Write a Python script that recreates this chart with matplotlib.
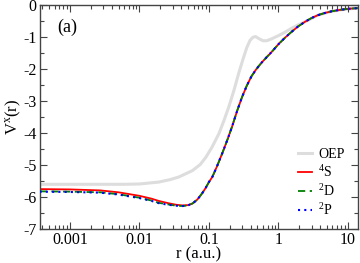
import matplotlib
matplotlib.use("Agg")
import matplotlib.pyplot as plt
from matplotlib.ticker import FixedLocator, FixedFormatter, LogLocator, MultipleLocator, NullFormatter

plt.rcParams['font.family'] = ['Liberation Serif', 'DejaVu Serif']
plt.rcParams['mathtext.fontset'] = 'custom'
plt.rcParams['mathtext.rm'] = 'Liberation Serif'
plt.rcParams['mathtext.it'] = 'Liberation Serif'
plt.rcParams['axes.unicode_minus'] = False

# OEP curve
r_oep = [3.66e-4, 0.001, 0.003, 0.006, 0.01, 0.019, 0.028, 0.037, 0.058, 0.075, 0.09, 0.11, 0.139,
         0.165, 0.193, 0.23, 0.268, 0.31, 0.35, 0.39, 0.43, 0.47, 0.53, 0.6, 0.68, 0.8, 1.0,
         1.25, 1.55, 1.9, 2.4, 3.7, 5.8, 9.0, 13.9]
v_oep = [-5.60, -5.60, -5.60, -5.60, -5.59, -5.53, -5.45, -5.37, -5.17, -4.98, -4.76, -4.45, -4.02,
         -3.60, -3.18, -2.65, -2.13, -1.68, -1.33, -1.10, -1.00, -0.98, -1.05, -1.11, -1.11, -1.05, -0.95,
         -0.84, -0.72, -0.62, -0.52, -0.31, -0.19, -0.125, -0.09]

# 4S curve
r_s = [3.66e-4, 0.001, 0.0027, 0.005, 0.01, 0.015, 0.019, 0.026, 0.034, 0.042, 0.05, 0.058, 0.068,
       0.08, 0.09, 0.1, 0.112, 0.13, 0.155, 0.185, 0.215, 0.255, 0.3, 0.35, 0.41, 0.48, 0.57,
       0.68, 0.8, 1.0, 1.25, 1.55, 1.9, 2.4, 3.0, 3.7, 4.6, 5.8, 7.2, 9.0, 11.0, 13.9]
v_s = [-5.75, -5.76, -5.79, -5.85, -5.96, -6.05, -6.12, -6.19, -6.24, -6.26, -6.25, -6.20, -6.08,
       -5.88, -5.71, -5.53, -5.37, -5.05, -4.64, -4.20, -3.80, -3.30, -2.87, -2.52, -2.22, -2.00, -1.80,
       -1.62, -1.46, -1.22, -1.01, -0.83, -0.67, -0.52, -0.40, -0.31, -0.245, -0.19, -0.155, -0.125, -0.105, -0.09]

# 2D and 2P curves
v_d = [-5.82, -5.83, -5.85, -5.91, -6.02, -6.11, -6.18, -6.23, -6.27, -6.28, -6.26, -6.20, -6.08,
       -5.88, -5.71, -5.53, -5.37, -5.05, -4.64, -4.20, -3.80, -3.30, -2.87, -2.52, -2.22, -2.00, -1.80,
       -1.62, -1.46, -1.22, -1.01, -0.83, -0.67, -0.52, -0.40, -0.31, -0.245, -0.19, -0.155, -0.125, -0.105, -0.09]
v_p = [-5.83, -5.84, -5.86, -5.92, -6.03, -6.12, -6.19, -6.24, -6.27, -6.28, -6.26, -6.20, -6.08,
       -5.88, -5.71, -5.53, -5.37, -5.05, -4.64, -4.20, -3.80, -3.30, -2.87, -2.52, -2.22, -2.00, -1.80,
       -1.62, -1.46, -1.22, -1.01, -0.83, -0.67, -0.52, -0.40, -0.31, -0.245, -0.19, -0.155, -0.125, -0.105, -0.09]

x_ticks = [0.001, 0.01, 0.1, 1, 10]
x_ticklabels = ['0.001', '0.01', '0.1', '1', '10']
y_ticks = [0, -1, -2, -3, -4, -5, -6, -7]
y_ticklabels = ['0', '-1', '-2', '-3', '-4', '-5', '-6', '-7']

fig = plt.figure(figsize=(3.6, 2.63), dpi=100)
ax = fig.add_axes([0.11, 0.129, 0.884, 0.851])

ax.plot(r_oep, v_oep, color='#dddddd', lw=2.2, label='OEP', zorder=1)
ax.plot(r_s, v_s, color='#ff0000', lw=1.3, ls='-', label=r'$^4$S', zorder=2)
ax.plot(r_s, v_d, color='#008000', lw=1.3, ls=(0, (4, 2.5)), label=r'$^2$D', zorder=3)
ax.plot(r_s, v_p, color='#0000ff', lw=1.5, ls=(0, (1, 2)), label=r'$^2$P', zorder=4)

ax.set_xscale('log')
ax.set_xlim(3.66e-4, 13.9)
ax.set_ylim(-7, 0)
ax.xaxis.set_major_locator(FixedLocator(x_ticks))
ax.xaxis.set_major_formatter(FixedFormatter(x_ticklabels))
ax.xaxis.set_minor_locator(LogLocator(base=10, subs=range(2, 10), numticks=20))
ax.xaxis.set_minor_formatter(NullFormatter())
ax.yaxis.set_major_locator(FixedLocator(y_ticks))
ax.yaxis.set_major_formatter(FixedFormatter(y_ticklabels))
ax.yaxis.set_minor_locator(MultipleLocator(0.5))

ax.tick_params(which='both', direction='in', top=True, right=True, labelsize=11.5, color='#444444', pad=2)
ax.tick_params(which='major', length=5, width=0.8)
ax.tick_params(which='minor', length=3, width=0.8)
for s in ax.spines.values():
    s.set_color('#444444')
    s.set_linewidth(1.0)

ax.set_xlabel('r (a.u.)', fontsize=12, labelpad=-1)
ax.set_ylabel(r'V$^{\mathrm{x}}$(r)', fontsize=12, labelpad=0)
ax.text(0.055, 0.90, '(a)', transform=ax.transAxes, fontsize=13, va='center', ha='left')

leg = ax.legend(loc='lower right', frameon=False, fontsize=10, handlelength=1.05,
                handletextpad=0.4, labelspacing=0.22, borderaxespad=0.0,
                bbox_to_anchor=(0.975, 0.025))

fig.savefig('out.png', dpi=100)
